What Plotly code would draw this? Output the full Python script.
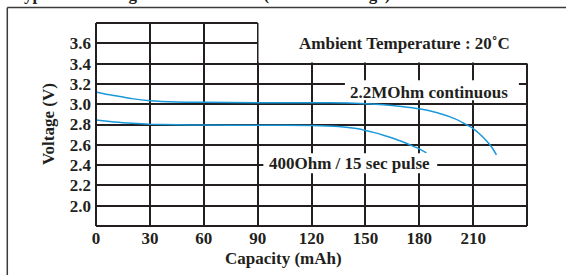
import plotly.graph_objects as go

# Data
continuous_x = [0, 5, 10, 15, 20, 30, 45, 60, 90, 120, 140, 150, 160, 170, 180, 190, 200, 205, 210, 215, 220, 223]
continuous_v = [3.12, 3.10, 3.085, 3.07, 3.055, 3.035, 3.022, 3.018, 3.015, 3.015, 3.012, 3.005, 2.995, 2.978, 2.955,
                2.915, 2.855, 2.81, 2.76, 2.685, 2.585, 2.50]

pulse_x = [0, 5, 10, 15, 20, 30, 45, 60, 90, 120, 135, 145, 155, 160, 165, 170, 175, 180, 184]
pulse_v = [2.845, 2.835, 2.825, 2.818, 2.812, 2.803, 2.797, 2.794, 2.792, 2.79, 2.78, 2.76, 2.72, 2.695, 2.667,
           2.635, 2.598, 2.56, 2.52]

x_ticks = [0, 30, 60, 90, 120, 150, 180, 210]
y_ticks = [2.0, 2.2, 2.4, 2.6, 2.8, 3.0, 3.2, 3.4, 3.6]

LINE = "#1a98da"
GRID = "#231f20"
FONT = "Liberation Serif"

fig = go.Figure()
fig.add_trace(go.Scatter(x=continuous_x, y=continuous_v, mode="lines",
                         line=dict(color=LINE, width=1.5, shape="spline", smoothing=0.6),
                         name="2.2MOhm continuous", showlegend=False, hoverinfo="skip"))
fig.add_trace(go.Scatter(x=pulse_x, y=pulse_v, mode="lines",
                         line=dict(color=LINE, width=1.5, shape="spline", smoothing=0.6),
                         name="400Ohm / 15 sec pulse", showlegend=False, hoverinfo="skip"))

tickfont = dict(family=FONT, size=17, color=GRID, weight="bold")
fig.update_xaxes(range=[0, 240], tickvals=x_ticks, ticktext=[str(v) for v in x_ticks],
                 showgrid=True, gridcolor=GRID, gridwidth=1.6, zeroline=False, showline=False,
                 ticks="", tickfont=tickfont, fixedrange=True)
fig.update_yaxes(range=[1.8, 3.8], tickvals=y_ticks, ticktext=[f"{v:.1f}" for v in y_ticks],
                 showgrid=True, gridcolor=GRID, gridwidth=1.6, zeroline=False, showline=False,
                 ticks="", tickfont=tickfont, fixedrange=True, ticklabelstandoff=4)

shapes = []
# white areas covering grid
shapes.append(dict(type="rect", xref="x", yref="y", x0=90.5, x1=260, y0=3.41, y1=4.0,
                   fillcolor="white", line=dict(width=0), layer="above"))
shapes.append(dict(type="rect", xref="x", yref="y", x0=138.6, x1=235.5, y0=3.04, y1=3.235,
                   fillcolor="white", line=dict(width=0), layer="above"))
shapes.append(dict(type="rect", xref="x", yref="y", x0=93.2, x1=190, y0=2.319, y1=2.516,
                   fillcolor="white", line=dict(width=0), layer="above"))
# plot border
bl = dict(color=GRID, width=2)
shapes.append(dict(type="line", xref="paper", yref="paper", x0=0, x1=0, y0=0, y1=1, line=bl, layer="above"))
shapes.append(dict(type="line", xref="paper", yref="paper", x0=0, x1=1, y0=0, y1=0, line=bl, layer="above"))
shapes.append(dict(type="line", xref="paper", yref="paper", x0=0, x1=0.375, y0=1, y1=1, line=bl, layer="above"))
shapes.append(dict(type="line", xref="paper", yref="paper", x0=1, x1=1, y0=0, y1=0.8, line=bl, layer="above"))
# outer frame
fl = dict(color="#3a3a3a", width=1.5)
shapes.append(dict(type="line", xref="paper", yref="paper", x0=-0.2058, x1=1.2, y0=1.0759, y1=1.0759, line=fl))
shapes.append(dict(type="line", xref="paper", yref="paper", x0=-0.2058, x1=-0.2058, y0=1.0759, y1=-0.4, line=fl))

afont = dict(family=FONT, size=17, color=GRID, weight="bold")
annotations = [
    dict(text="Ambient Temperature : 20\u02daC", x=171.8, y=3.603, xref="x", yref="y",
         showarrow=False, font=afont, xanchor="center", yanchor="middle"),
    dict(text="2.2MOhm continuous", x=185.6, y=3.12, xref="x", yref="y",
         showarrow=False, font=afont, xanchor="center", yanchor="middle"),
    dict(text="400Ohm / 15 sec pulse", x=141.3, y=2.415, xref="x", yref="y",
         showarrow=False, font=afont, xanchor="center", yanchor="middle"),
    dict(text="Capacity (mAh)", x=(283 - 96) / 431, y=1 - (257.7 - 22.7) / 203, xref="paper", yref="paper",
         showarrow=False, font=afont, xanchor="center", yanchor="middle"),
    dict(text="Voltage (V)", x=(49.3 - 96) / 431, y=1 - (123.5 - 22.7) / 203, xref="paper", yref="paper",
         showarrow=False, font=afont, xanchor="center", yanchor="middle", textangle=-90),
    dict(text="Typical Discharge Characteristics (Pulse Discharge)", x=(12 - 96) / 431, y=1 + (22.7 - 6) / 203,
         xref="paper", yref="paper", showarrow=False, font=dict(family=FONT, size=17, color=GRID, weight="bold"),
         xanchor="left", yanchor="bottom"),
]

fig.update_layout(width=566, height=275, margin=dict(l=96, r=39, t=23, b=49, autoexpand=False),
                  paper_bgcolor="white", plot_bgcolor="white", shapes=shapes, annotations=annotations,
                  showlegend=False)

fig.write_html("out.html", config={"displayModeBar": False},
               post_script="document.body.style.margin='0';document.body.style.padding='0';")
